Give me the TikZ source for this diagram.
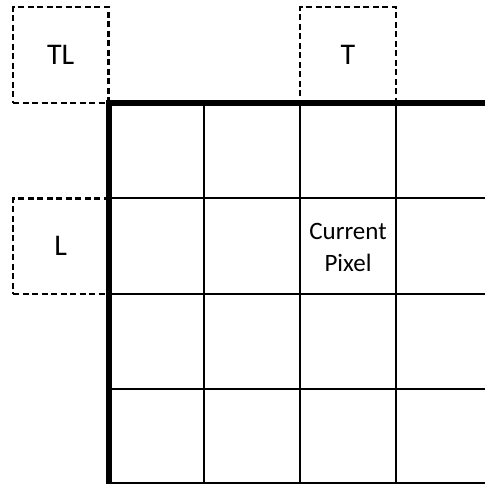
\documentclass[tikz,border=0pt]{standalone}
\usepackage{fontspec}
\setmainfont{Carlito}
\begin{document}
\begin{tikzpicture}[x=1pt,y=-1pt,
  nbr/.style={draw, dash pattern=on 6pt off 3.5pt, line width=2.2pt,
    minimum width=95.5pt, minimum height=95.5pt, inner sep=0pt,
    font=\fontsize{30}{36}\selectfont},
  gridline/.style={line width=2.2pt},
  border/.style={line width=6pt},
  lbl/.style={align=center, inner sep=0pt, font=\fontsize{25}{32}\selectfont}]
\useasboundingbox (0,0) rectangle (485,484);
% neighbour boxes
\node[nbr] (tl) at (60.75,55) {TL};
\node[nbr, minimum width=96pt] (t) at (348,55) {T};
\node[nbr] (l) at (60.75,246.25) {L};
% grid corners
\coordinate (o) at (108.5,103);
\coordinate (r) at (486,103);
\coordinate (b) at (108.5,485);
% grid lines
\foreach \x in {204,300,396} \draw[gridline] (\x,103) -- (\x,485);
\foreach \y in {198,294,389,483} \draw[gridline] (108.5,\y) -- (486,\y);
% thick border
\draw[border, line cap=rect] (r) -- (o) -- (b);
% current pixel
\node[lbl] (cur) at (348,247) {Current\\Pixel};
\end{tikzpicture}
\end{document}
